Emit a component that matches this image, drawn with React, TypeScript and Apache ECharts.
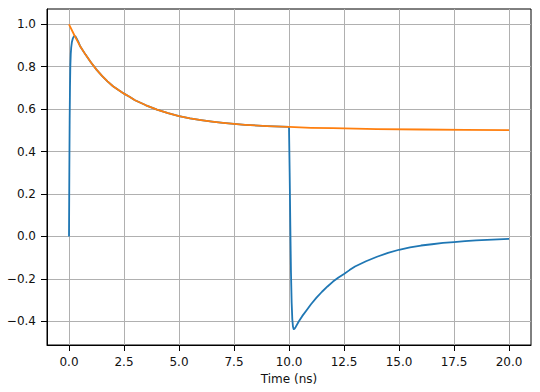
import React, { useEffect, useRef } from "react";
import * as echarts from "echarts";

// Orange curve (reference / envelope)
const orangeTime = [0, 0.25, 0.5, 0.75, 1, 1.25, 1.5, 1.75, 2, 2.25, 2.5, 2.75, 3, 3.5, 4, 4.5, 5, 5.5, 6, 6.5, 7, 7.5, 8, 9, 10, 11, 12, 14, 16, 18, 20];
const orangeValue = [1.0, 0.947, 0.898, 0.857, 0.82, 0.786, 0.757, 0.731, 0.708, 0.69, 0.673, 0.658, 0.642, 0.618, 0.598, 0.581, 0.567, 0.556, 0.548, 0.541, 0.535, 0.53, 0.526, 0.52, 0.516, 0.512, 0.51, 0.506, 0.504, 0.502, 0.501];

// Blue curve (response)
const blueTime = [0, 0.015, 0.03, 0.045, 0.06, 0.08, 0.1, 0.13, 0.17, 0.21, 0.25, 0.3, 0.35, 0.42, 0.5, 0.75, 1, 1.25, 1.5, 1.75, 2, 2.25, 2.5, 2.75, 3, 3.5, 4, 4.5, 5, 5.5, 6, 6.5, 7, 7.5, 8, 9, 10,
  10.03, 10.06, 10.09, 10.12, 10.15, 10.18, 10.21, 10.25, 10.3, 10.45, 10.6, 10.8, 11, 11.25, 11.5, 11.75, 12, 12.25, 12.5, 12.75, 13, 13.5, 14, 14.5, 15, 15.5, 16, 16.5, 17, 17.5, 18, 18.5, 19, 19.5, 20];
const blueValue = [0, 0.3, 0.55, 0.7, 0.8, 0.86, 0.89, 0.915, 0.932, 0.941, 0.945, 0.942, 0.932, 0.918, 0.898, 0.857, 0.82, 0.786, 0.757, 0.731, 0.708, 0.69, 0.673, 0.658, 0.642, 0.618, 0.598, 0.581, 0.567, 0.556, 0.548, 0.541, 0.535, 0.53, 0.526, 0.52, 0.516,
  0.3, 0.05, -0.17, -0.31, -0.39, -0.425, -0.437, -0.436, -0.428, -0.4, -0.376, -0.348, -0.32, -0.289, -0.261, -0.236, -0.213, -0.194, -0.177, -0.159, -0.142, -0.117, -0.096, -0.078, -0.063, -0.052, -0.043, -0.037, -0.031, -0.027, -0.022, -0.019, -0.016, -0.014, -0.012];

const xTicks = [0, 2.5, 5, 7.5, 10, 12.5, 15, 17.5, 20];
const yTicks = [-0.4, -0.2, 0, 0.2, 0.4, 0.6, 0.8, 1.0];

const fmt = (v: number) => {
  const s = Math.abs(v).toFixed(1);
  return v < -1e-9 ? "\u2212" + s : s;
};

export default function App() {
  const ref = useRef<HTMLDivElement>(null);
  useEffect(() => {
    if (!ref.current) return;
    const chart = echarts.init(ref.current, undefined, { renderer: "svg" });
    const font = "DejaVu Sans";
    chart.setOption({
      animation: false,
      backgroundColor: "#ffffff",
      grid: {
        left: 47,
        right: 9,
        top: 9,
        bottom: 47,
        show: true,
        borderColor: "#000",
        borderWidth: 1,
        backgroundColor: "transparent",
      },
      xAxis: {
        type: "value",
        min: -1,
        max: 21,
        name: "Time (ns)",
        nameLocation: "middle",
        nameGap: 23,
        nameTextStyle: { fontFamily: font, fontSize: 12, color: "#111" },
        axisLine: { show: true, onZero: false, lineStyle: { color: "#000", width: 1 } },
        axisTick: { show: true, length: 6, customValues: xTicks, lineStyle: { color: "#000", width: 1 } },
        axisLabel: {
          customValues: xTicks,
          formatter: (v: number) => fmt(v),
          fontFamily: font,
          fontSize: 12,
          color: "#111",
          margin: 11,
        },
        splitLine: { show: true, lineStyle: { color: "#b0b0b0", width: 1 } },
      },
      yAxis: {
        type: "value",
        min: -0.512,
        max: 1.072,
        axisLine: { show: true, onZero: false, lineStyle: { color: "#000", width: 1 } },
        axisTick: { show: true, length: 6, customValues: yTicks, lineStyle: { color: "#000", width: 1 } },
        axisLabel: {
          customValues: yTicks,
          formatter: (v: number) => fmt(v),
          fontFamily: font,
          fontSize: 12,
          color: "#111",
          margin: 11,
        },
        splitLine: { show: true, lineStyle: { color: "#b0b0b0", width: 1 } },
      },
      series: [
        {
          type: "line",
          data: blueTime.map((t, i) => [t, blueValue[i]]),
          showSymbol: false,
          smooth: false,
          lineStyle: { color: "#1f77b4", width: 1.8, join: "round" },
          itemStyle: { color: "#1f77b4" },
          z: 2,
        },
        {
          type: "line",
          data: orangeTime.map((t, i) => [t, orangeValue[i]]),
          showSymbol: false,
          smooth: false,
          lineStyle: { color: "#ff7f0e", width: 1.8, join: "round" },
          itemStyle: { color: "#ff7f0e" },
          z: 3,
        },
      ],
    });
    return () => chart.dispose();
  }, []);
  return (
    <div
      ref={ref}
      style={{ position: "absolute", left: 0, top: 0, width: 540, height: 392 }}
    />
  );
}
